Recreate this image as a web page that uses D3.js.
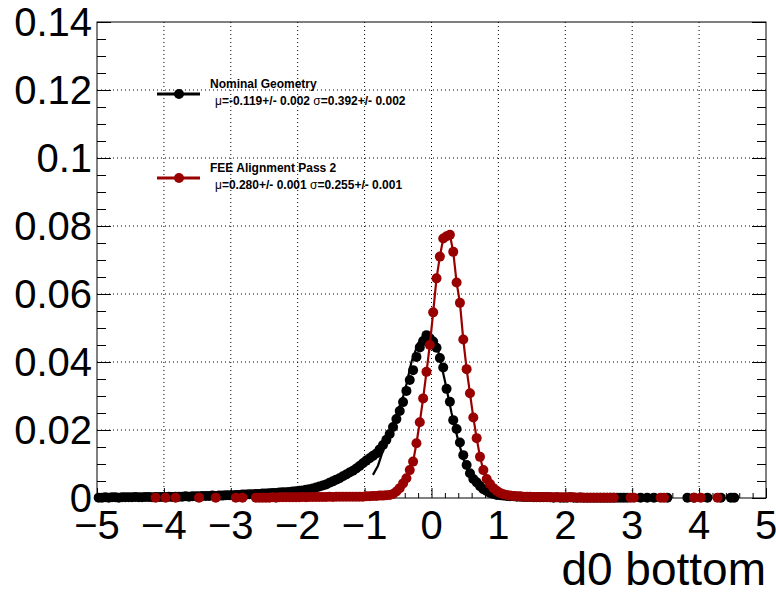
<!DOCTYPE html>
<html>
<head>
<meta charset="utf-8">
<script src="https://cdn.jsdelivr.net/npm/d3@7"></script>
<style>
  body { margin: 0; background: #fff; }
  text { font-family: "Liberation Sans", Arial, sans-serif; }
</style>
</head>
<body>
<div id="chart"></div>
<script>
// d0 bottom : nominal geometry vs FEE alignment pass 2
var binWidth = 0.05;

// Nominal geometry, contiguous bins starting at nomStart
var nomStart = -4.975;
var nomY = [
  0.0001, 0.0001, 0.0002, 0.0001, 0.0002, 0.0002, 0.0001, 0.0002, 0.0002, 0.0002,
  0.0002, 0.0003, 0.0002, 0.0002, 0.0003, 0.0003, 0.0002, 0.0003, 0.0003, 0.0003,
  0.0003, 0.0004, 0.0003, 0.0004, 0.0004, 0.0004, 0.0005, 0.0004, 0.0005, 0.0005,
  0.0005, 0.0006, 0.0006, 0.0006, 0.0007, 0.0006, 0.0007, 0.0007, 0.0008, 0.0008,
  0.0008, 0.0009, 0.0009, 0.0010, 0.0010, 0.0011, 0.0011, 0.0012, 0.0012, 0.0013,
  0.0013, 0.0014, 0.0015, 0.0015, 0.0016, 0.0017, 0.0017, 0.0018, 0.0019,
  0.0020, 0.0021, 0.0022, 0.0024, 0.0026, 0.0028, 0.0031, 0.0034, 0.0037, 0.0040,
  0.0045, 0.0049, 0.0054, 0.0058, 0.0064, 0.0069, 0.0075, 0.0080, 0.0087, 0.0094,
  0.0102, 0.0110, 0.0117, 0.0124, 0.0131, 0.0143, 0.0156, 0.0171, 0.0188, 0.0209,
  0.0232, 0.0256, 0.0282, 0.0315, 0.0347, 0.0376, 0.0415, 0.0443, 0.0462, 0.0479,
  0.0470, 0.0460, 0.0442, 0.0412, 0.0384, 0.0321, 0.0283, 0.0229, 0.0203, 0.0163,
  0.0126, 0.0097, 0.0073, 0.0056, 0.0046, 0.0035, 0.0026, 0.0021, 0.0015, 0.0012,
  0.0009, 0.0008, 0.0007, 0.0006, 0.0005, 0.0005, 0.0004, 0.0004, 0.0003, 0.0003,
  0.0003, 0.0002, 0.0002, 0.0002, 0.0002, 0.0002, 0.0002, 0.0001, 0.0002, 0.0001,
  0.0001, 0.0001, 0.0002, 0.0001, 0.0001, 0.0001, 0.0001, 0.0001, 0.0001, 0.0001,
  0.0001, 0.0001, 0.0001, 0.0001, 0.0001, 0.0001, 0.0001, 0.0001, 0.0001, 0.0001
];
// isolated nominal bins in the right tail
var nomTailX = [3.125, 3.225, 3.325, 3.525, 3.825, 3.925, 4.125, 4.325, 4.475, 4.525];
var nomTailY = [0.0001, 0.0001, 0.0001, 0.0001, 0.0001, 0.0001, 0.0001, 0.0001, 0.0001, 0.0001];

// Nominal fit curve
var nomFitX = [-0.875, -0.8, -0.7, -0.6, -0.5, -0.4, -0.3, -0.2, -0.1, -0.05, 0.0,
               0.1, 0.2, 0.3, 0.4, 0.5, 0.6, 0.7, 0.8, 0.9, 1.0];
var nomFitY = [0.0068, 0.0095, 0.0155, 0.0205, 0.0258, 0.0312, 0.0400, 0.0455, 0.0478, 0.0480, 0.0472,
               0.0432, 0.0345, 0.0250, 0.0168, 0.0100, 0.0062, 0.0040, 0.0022, 0.0014, 0.0009];

// FEE alignment pass 2, contiguous bins starting at feeStart
var feeStart = -2.625;
var feeY = [
  0.0001, 0.0001, 0.0001, 0.0001, 0.0001, 0.0002, 0.0001, 0.0002, 0.0002, 0.0002,
  0.0002, 0.0002, 0.0002, 0.0002, 0.0003, 0.0002, 0.0003, 0.0003, 0.0003, 0.0003,
  0.0003, 0.0003, 0.0004, 0.0003, 0.0004, 0.0004, 0.0004, 0.0004, 0.0004, 0.0004,
  0.0004, 0.0004, 0.0004,
  0.0005, 0.0005, 0.0006, 0.0006, 0.0007, 0.0007, 0.0008, 0.0009, 0.0012,
  0.0019, 0.0029, 0.0043, 0.0058, 0.0082, 0.0107, 0.0161, 0.0223, 0.0293, 0.0371,
  0.0450, 0.0546, 0.0646, 0.0710, 0.0763, 0.0770, 0.0774, 0.0724, 0.0634, 0.0574,
  0.0466, 0.0379, 0.0308, 0.0237, 0.0176, 0.0121, 0.0082, 0.0056, 0.0041, 0.0029,
  0.0021, 0.0015, 0.0011, 0.0009, 0.0007, 0.0006, 0.0005, 0.0005, 0.0004, 0.0004,
  0.0004, 0.0003, 0.0003, 0.0003, 0.0003, 0.0003, 0.0002, 0.0002, 0.0002, 0.0002,
  0.0002, 0.0002, 0.0002, 0.0002, 0.0001, 0.0002, 0.0001, 0.0001, 0.0001, 0.0001,
  0.0001, 0.0001, 0.0001, 0.0001, 0.0001, 0.0001
];
var feeTailX = [-4.125, -3.975, -3.825, -3.475, -3.225, -2.925, -2.825,
                2.975, 3.025, 3.425, 3.475, 3.925, 4.025, 4.275];
var feeTailY = [0.0001, 0.0001, 0.0001, 0.0001, 0.0001, 0.0001, 0.0001,
                0.0001, 0.0001, 0.0001, 0.0001, 0.0001, 0.0001, 0.0001];
var feeLineRange = [-0.35, 0.9];

var xTicks = [-5, -4, -3, -2, -1, 0, 1, 2, 3, 4, 5];
var yTicks = [0, 0.02, 0.04, 0.06, 0.08, 0.1, 0.12, 0.14];
var yTickLabels = ["0", "0.02", "0.04", "0.06", "0.08", "0.1", "0.12", "0.14"];

var legendNames = ["Nominal Geometry", "FEE Alignment Pass 2"];
var legendMu = ["-0.119+/- 0.002", "0.280+/- 0.001"];
var legendSigma = ["0.392+/- 0.002", "0.255+/- 0.001"];
var colors = ["#000000", "#990000"];

var W = 776, H = 594;
var margin = { top: 22, left: 97, right: 10, bottom: 96 };
var width = W - margin.left - margin.right;
var height = H - margin.top - margin.bottom;

function toPoints(start, ys) {
  return ys.map(function(v, i) { return { x: start + i * binWidth, y: v }; });
}
function zipPoints(xs, ys) {
  return xs.map(function(v, i) { return { x: v, y: ys[i] }; });
}
var nomPts = toPoints(nomStart, nomY).concat(zipPoints(nomTailX, nomTailY));
var feePts = toPoints(feeStart, feeY).concat(zipPoints(feeTailX, feeTailY));
var nomFit = zipPoints(nomFitX, nomFitY);
var feeLine = toPoints(feeStart, feeY).filter(function(d) {
  return d.x >= feeLineRange[0] && d.x <= feeLineRange[1];
});

var x = d3.scaleLinear().domain([-5, 5]).range([0, width]);
var y = d3.scaleLinear().domain([0, 0.14]).range([height, 0]);

var svg = d3.select("#chart").append("svg")
    .attr("width", W)
    .attr("height", H);

var g = svg.append("g")
    .attr("transform", "translate(" + margin.left + "," + margin.top + ")");

// grid
g.selectAll(".gx")
  .data(xTicks.slice(1, -1))
  .enter().append("line")
  .attr("x1", function(d) { return x(d); })
  .attr("x2", function(d) { return x(d); })
  .attr("y1", 0).attr("y2", height)
  .style("stroke", "#000").style("stroke-width", 1)
  .style("stroke-dasharray", "1,3");

g.selectAll(".gy")
  .data(yTicks.slice(1, -1))
  .enter().append("line")
  .attr("y1", function(d) { return y(d); })
  .attr("y2", function(d) { return y(d); })
  .attr("x1", 0).attr("x2", width)
  .style("stroke", "#000").style("stroke-width", 1)
  .style("stroke-dasharray", "1,3");

// axes (ticks inside the frame)
var xAxis = d3.axisTop(x).tickValues(d3.range(-5, 5.001, 0.2))
    .tickSize(5).tickFormat("");
g.append("g").attr("transform", "translate(0," + height + ")").call(xAxis)
  .call(function(s) { s.select(".domain").remove(); })
  .selectAll(".tick line")
  .attr("y2", function(d) { return Math.abs(d - Math.round(d)) < 1e-6 ? -10 : -5; });

var yMinor = d3.range(0, 0.14001, 0.005);
g.append("g").call(d3.axisRight(y).tickValues(yMinor).tickSize(10).tickFormat(""))
  .call(function(s) { s.select(".domain").remove(); })
  .selectAll(".tick line")
  .attr("x2", function(d, i) { return i % 4 === 0 ? 14 : 9; });
g.append("g").attr("transform", "translate(" + width + ",0)")
  .call(d3.axisLeft(y).tickValues(yMinor).tickSize(10).tickFormat(""))
  .call(function(s) { s.select(".domain").remove(); })
  .selectAll(".tick line")
  .attr("x2", function(d, i) { return i % 4 === 0 ? -14 : -9; });

// frame
g.append("rect")
  .attr("width", width).attr("height", height)
  .style("fill", "none").style("stroke", "#000").style("stroke-width", 1);

// tick labels
g.selectAll(".xl")
  .data(xTicks)
  .enter().append("text")
  .attr("x", function(d) { return x(d); })
  .attr("y", height + 41)
  .attr("text-anchor", "middle")
  .style("font-size", "40px")
  .text(function(d) { return d < 0 ? "\u2212" + Math.abs(d) : d; });

g.selectAll(".yl")
  .data(yTicks)
  .enter().append("text")
  .attr("x", -5)
  .attr("y", function(d) { return y(d) + 14; })
  .attr("text-anchor", "end")
  .style("font-size", "40px")
  .text(function(d, i) { return yTickLabels[i]; });

svg.append("text")
  .attr("x", margin.left + width)
  .attr("y", 585)
  .attr("text-anchor", "end")
  .style("font-size", "46px")
  .text("d0 bottom");

// series
var line = d3.line()
  .x(function(d) { return x(d.x); })
  .y(function(d) { return y(d.y); });

g.append("path").datum(nomFit)
  .attr("d", line)
  .style("fill", "none").style("stroke", colors[0]).style("stroke-width", 2.2);

g.selectAll(".nom")
  .data(nomPts)
  .enter().append("circle")
  .attr("cx", function(d) { return x(d.x); })
  .attr("cy", function(d) { return y(d.y); })
  .attr("r", 5)
  .style("fill", colors[0]);

g.append("path").datum(feeLine)
  .attr("d", line)
  .style("fill", "none").style("stroke", colors[1]).style("stroke-width", 2.2);

g.selectAll(".fee")
  .data(feePts)
  .enter().append("circle")
  .attr("cx", function(d) { return x(d.x); })
  .attr("cy", function(d) { return y(d.y); })
  .attr("r", 5)
  .style("fill", colors[1]);

// legend
var legend = svg.selectAll(".legend")
  .data(legendNames)
  .enter().append("g")
  .attr("transform", function(d, i) { return "translate(157," + (94 + i * 84) + ")"; });

legend.append("line")
  .attr("x1", 0).attr("x2", 43)
  .style("stroke", function(d, i) { return colors[i]; })
  .style("stroke-width", 3);

legend.append("circle")
  .attr("cx", 22).attr("r", 5)
  .style("fill", function(d, i) { return colors[i]; });

legend.append("text")
  .attr("x", 53).attr("y", -6)
  .style("font-size", "12px").style("font-weight", "bold")
  .text(function(d) { return d; });

var stats = legend.append("text")
  .attr("x", 58).attr("y", 11)
  .style("font-size", "12px").style("font-weight", "bold");
stats.append("tspan").style("font-weight", "normal").text("\u03bc");
stats.append("tspan").text(function(d, i) { return "=" + legendMu[i] + " "; });
stats.append("tspan").style("font-weight", "normal").text("\u03c3");
stats.append("tspan").text(function(d, i) { return "=" + legendSigma[i]; });
</script>
</body>
</html>
